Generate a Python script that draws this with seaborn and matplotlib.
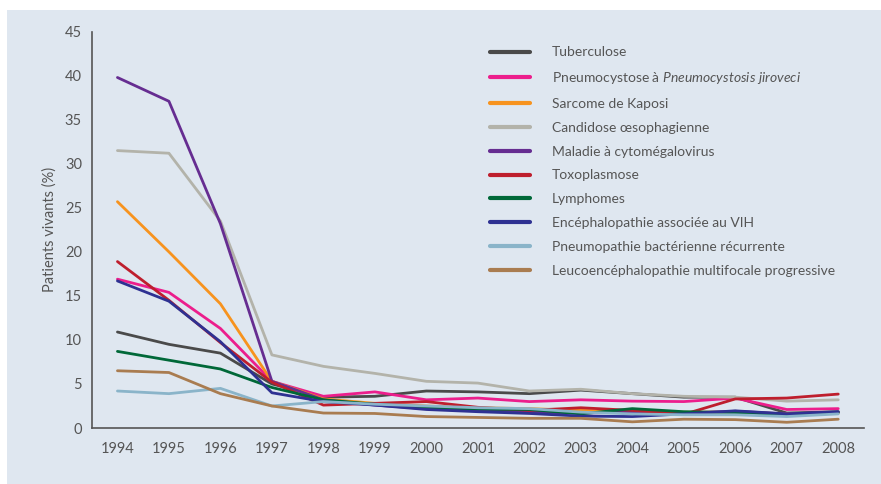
import matplotlib
matplotlib.use("Agg")
import matplotlib.pyplot as plt
from matplotlib import font_manager
from matplotlib.patches import Rectangle
import seaborn as sns
import pandas as pd
import numpy as np

years = list(range(1994, 2009))
series_names = [
    "Tuberculose",
    "Pneumocystose à $\\mathit{Pneumocystosis\\ jiroveci}$",
    "Sarcome de Kaposi",
    "Candidose œsophagienne",
    "Maladie à cytomégalovirus",
    "Toxoplasmose",
    "Lymphomes",
    "Encéphalopathie associée au VIH",
    "Pneumopathie bactérienne récurrente",
    "Leucoencéphalopathie multifocale progressive",
]
tuberculose   = [10.9, 9.5, 8.5, 5.0, 3.5, 3.6, 4.2, 4.1, 3.9, 4.3, 3.9, 3.5, 3.5, 1.7, 1.85]
pneumocystose = [16.9, 15.4, 11.3, 5.3, 3.6, 4.1, 3.2, 3.4, 3.0, 3.2, 3.05, 3.0, 3.4, 2.1, 2.2]
kaposi        = [25.7, 20.0, 14.1, 5.3, 3.3, 2.8, 2.5, 2.3, 2.2, 2.0, 1.9, 1.8, 1.8, 1.6, 1.7]
candidose     = [31.5, 31.2, 23.5, 8.3, 7.0, 6.2, 5.3, 5.1, 4.2, 4.4, 3.9, 3.6, 3.5, 3.05, 3.2]
cmv           = [39.8, 37.1, 23.2, 5.3, 3.2, 2.6, 2.2, 2.0, 1.8, 1.7, 1.8, 1.7, 1.9, 1.6, 1.8]
toxo          = [18.9, 14.5, 9.7, 5.2, 2.6, 2.8, 3.0, 2.35, 2.0, 2.3, 2.0, 1.55, 3.3, 3.4, 3.85]
lymphomes     = [8.7, 7.7, 6.7, 4.6, 3.2, 2.7, 2.35, 2.15, 2.1, 1.6, 2.2, 1.85, 1.75, 1.5, 1.75]
encephalo     = [16.7, 14.4, 9.8, 4.0, 3.0, 2.6, 2.1, 1.85, 1.65, 1.35, 1.3, 1.6, 1.95, 1.6, 1.85]
pneumopathie  = [4.2, 3.9, 4.5, 2.5, 3.0, 2.7, 2.5, 2.3, 2.2, 1.8, 1.6, 1.5, 1.5, 1.3, 1.6]
leuco         = [6.5, 6.3, 3.9, 2.5, 1.7, 1.65, 1.3, 1.2, 1.1, 1.1, 0.7, 1.0, 0.95, 0.65, 1.0]
colors = ["#4a4a4a", "#ec1e8c", "#f7931e", "#b3b3aa", "#662d91",
          "#be1e2d", "#006838", "#2e3192", "#8ab4c9", "#a97c50"]
ytick_values = [0, 5, 10, 15, 20, 25, 30, 35, 40, 45]

all_values = [tuberculose, pneumocystose, kaposi, candidose, cmv, toxo,
              lymphomes, encephalo, pneumopathie, leuco]
rows = []
for name, vals in zip(series_names, all_values):
    for y, v in zip(years, vals):
        rows.append({"Année": y, "Valeur": v, "Maladie": name})
df = pd.DataFrame(rows)

sns.set_style("white")
avail = {f.name for f in font_manager.fontManager.ttflist}
fam = "DejaVu Sans"
for cand in ["Liberation Sans Narrow", "Lato", "Liberation Sans"]:
    if cand in avail:
        fam = cand
        break
plt.rcParams["font.family"] = [fam, "DejaVu Sans"]
plt.rcParams["mathtext.fontset"] = "custom"
plt.rcParams["mathtext.it"] = fam + ":italic"
plt.rcParams["mathtext.rm"] = fam

txt = "#555555"
fig = plt.figure(figsize=(8.81, 4.84), dpi=100)
fig.patch.set_facecolor("white")
fig.patches.append(Rectangle((7 / 881, 0), 1, 1 - 10 / 484, transform=fig.transFigure,
                             facecolor="#dfe7f0", edgecolor="none", zorder=-10))
ax = fig.add_axes([91.7 / 881, 1 - 428 / 484, (864 - 91.7) / 881, (428 - 31.7) / 484])
ax.set_facecolor("none")

sns.lineplot(data=df, x="Année", y="Valeur", hue="Maladie", hue_order=series_names,
             palette=dict(zip(series_names, colors)), linewidth=2.0, ax=ax,
             legend=True)

ax.set_xlim(1993.5, 2008.5)
ax.set_ylim(0, 45)
ax.set_xticks(years)
ax.set_xticklabels([str(y) for y in years])
ax.set_xticks([y + 0.5 for y in years], minor=True)
ax.tick_params(axis="x", which="major", length=0, pad=10, labelsize=10.5, labelcolor=txt)
ax.tick_params(axis="x", which="minor", length=7, width=1.2, color=txt, direction="out")
ax.set_yticks(ytick_values)
ax.tick_params(axis="y", length=5, width=1.2, color=txt, labelsize=10.5, labelcolor=txt, pad=2)
for s in ["top", "right"]:
    ax.spines[s].set_visible(False)
for s in ["left", "bottom"]:
    ax.spines[s].set_color(txt)
    ax.spines[s].set_linewidth(1.2)
ax.set_xlabel("")
ax.set_ylabel("Patients vivants (%)", fontsize=10.5, color=txt, labelpad=6)

leg = ax.legend(loc="upper left", bbox_to_anchor=((480 - 91.7) / (864 - 91.7), 1 - 5 / 396),
                frameon=False, fontsize=10, handlelength=2.9, handletextpad=1.58,
                labelspacing=0.85, borderaxespad=0.3)
for t in leg.get_texts():
    t.set_color(txt)
for h in leg.get_lines():
    h.set_linewidth(3.0)

fig.savefig("out.png", dpi=100, facecolor="white")
